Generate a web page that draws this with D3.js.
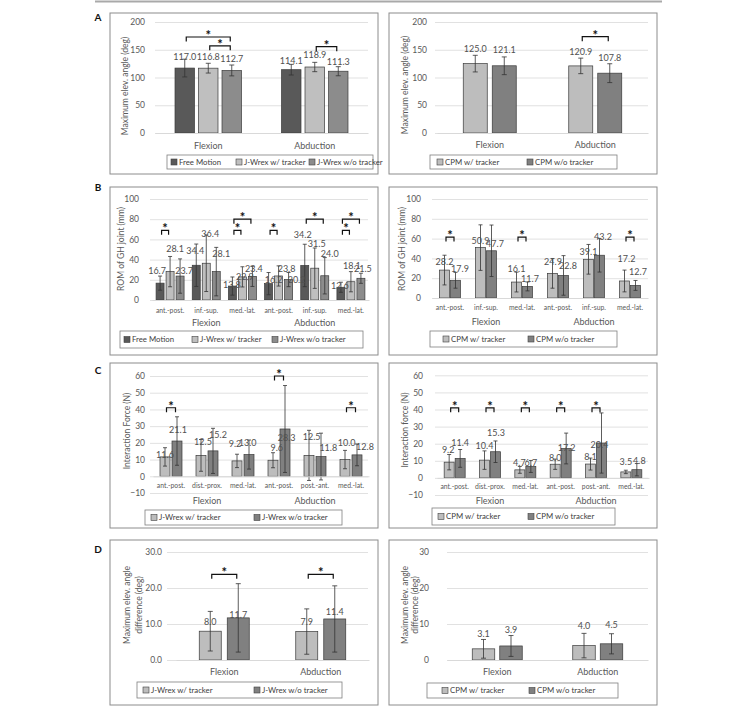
<!DOCTYPE html>
<html>
<head>
<meta charset="utf-8">
<script src="https://cdn.jsdelivr.net/npm/d3@7"></script>
<style>
  body { margin: 0; background: #fff; }
  svg { display: block; }
</style>
</head>
<body>
<div id="chart"></div>
<script>
var FONT = "Lato, 'Open Sans', sans-serif";
var fmt1 = d3.format(".1f");

// ---- categories / series ----
var motions = ["Flexion", "Abduction"];
var romCats = ["ant.-post.", "inf.-sup.", "med.-lat.", "ant.-post.", "inf.-sup.", "med.-lat."];
var forceCats = ["ant.-post.", "dist.-prox.", "med.-lat.", "ant.-post.", "post.-ant.", "med.-lat."];
var jwrex3 = ["Free Motion", "J-Wrex w/ tracker", "J-Wrex w/o tracker"];
var jwrex2 = ["J-Wrex w/ tracker", "J-Wrex w/o tracker"];
var cpm2 = ["CPM w/ tracker", "CPM w/o tracker"];

// ---- values [series][category] ----
var angleJwrexMean = [[117.0, 114.1], [116.8, 118.9], [112.7, 111.3]];
var angleJwrexSD   = [[16, 9.6], [8.8, 8.4], [9.8, 8.2]];
var angleCpmMean   = [[125.0, 120.9], [121.1, 107.8]];
var angleCpmSD     = [[15, 14], [16, 17]];

var romJwrexMean = [[16.7, 34.4, 13.8, 16.2, 34.2, 12.6],
                    [28.1, 36.4, 22.9, 23.8, 31.5, 18.1],
                    [23.7, 28.1, 23.4, 20.2, 24.0, 21.5]];
var romJwrexSD   = [[7, 21, 9, 11, 21, 5],
                    [15, 28, 10, 10, 20, 10],
                    [17, 24, 10, 7, 18, 5]];
var romCpmMean   = [[28.2, 50.9, 16.1, 24.9, 39.1, 17.2],
                    [17.9, 47.7, 11.7, 22.8, 43.2, 12.7]];
var romCpmSD     = [[15, 23, 10, 15, 15, 11],
                    [8, 26, 4.5, 20, 17, 5]];

var forceJwrexMean = [[11.6, 12.5, 9.2, 9.6, 12.5, 10.0],
                      [21.1, 15.2, 13.0, 28.3, 11.8, 12.8]];
var forceJwrexSD   = [[5.5, 9.5, 4, 4.5, 15, 5.5],
                      [14.5, 13.5, 8.7, 26, 14, 6.5]];
var forceCpmMean   = [[9.2, 10.4, 4.7, 8.0, 8.1, 3.5],
                      [11.4, 15.3, 6.7, 17.2, 20.4, 4.8]];
var forceCpmSD     = [[4.5, 5.4, 2, 3, 3.5, 1],
                      [5.2, 6.3, 3.5, 9, 17.6, 3.6]];

var diffJwrexMean = [[8.0, 7.9], [11.7, 11.4]];
var diffJwrexSD   = [[5.5, 6.3], [9.5, 9.2]];
var diffCpmMean   = [[3.1, 4.0], [3.9, 4.5]];
var diffCpmSD     = [[2.6, 3.4], [2.9, 2.8]];

// significance brackets: [category, series a, series b, level]
var sigAngleJwrex = [[0, 0, 2, 173], [0, 1, 2, 157], [1, 1, 2, 155.5]];
var sigAngleCpm   = [[1, 0, 1, 173.5]];
var sigRomJwrex   = [[0, 0, 1, 69], [2, 0, 1, 69], [2, 0, 2, 80], [3, 0, 1, 69], [4, 0, 2, 80], [5, 0, 1, 69], [5, 0, 2, 80]];
var sigRomCpm     = [[0, 0, 1, 61.5], [2, 0, 1, 61.5], [5, 0, 1, 61.5]];
var sigForceJwrex = [[0, 0, 1, 41], [3, 0, 1, 60], [5, 0, 1, 41]];
var sigForceCpm   = [[0, 0, 1, 41], [1, 0, 1, 41], [2, 0, 1, 41], [3, 0, 1, 41], [4, 0, 1, 41]];
var sigDiffJwrex  = [[0, 0, 1, 23.8], [1, 0, 1, 23.8]];

var colors3 = ["#595959", "#bfbfbf", "#8c8c8c"];
var colors2 = ["#bdbdbd", "#808080"];

var svg = d3.select("#chart").append("svg")
    .attr("width", 748).attr("height", 710)
    .style("font-family", FONT);

svg.append("line").attr("x1", 95).attr("x2", 662).attr("y1", 1.5).attr("y2", 1.5)
    .attr("stroke", "#a9a9a9").attr("stroke-width", 2);

// panel letters
[["A", 17.5], ["B", 187], ["C", 370], ["D", 549.5]].forEach(function(d){
    svg.append("text").attr("x", 98).attr("y", d[1]).attr("dy", "0.35em")
        .attr("text-anchor", "middle").attr("font-weight", "bold").attr("font-size", 10)
        .attr("fill", "#111").text(d[0]);
});

var panels = [
  { box: [110, 13, 378, 174], mean: angleJwrexMean, sd: angleJwrexSD, series: jwrex3, colors: colors3,
    yDomain: [0, 200], yRange: [133, 22], ticks: [0, 50, 100, 150, 200], tickFmt: d3.format("d"),
    grid: [155, 368], labelRight: 145, xRange: [155, 368], barW: 19.5, gap: 4, capW: 5,
    title: ["Maximum elev. angle (deg)"], titleX: 125, titleY: 86, titleGap: 0,
    cats: motions, catPad: 10, sig: sigAngleJwrex,
    labelOff: [[[0, -11], [0, -8.7]], [[0, -11], [0, -12]], [[0, -12], [0, -9]]], labelSize: 9,
    legend: { box: [167, 155, 373, 169], xs: [171, 236, 309] } },
  { box: [389, 13, 657, 174], mean: angleCpmMean, sd: angleCpmSD, series: cpm2, colors: colors2,
    yDomain: [0, 200], yRange: [133, 22], ticks: [0, 50, 100, 150, 200], tickFmt: d3.format("d"),
    grid: [435, 648], labelRight: 427, xRange: [437, 648], barW: 24, gap: 5, capW: 5,
    title: ["Maximum elev. angle (deg)"], titleX: 405, titleY: 85, titleGap: 0,
    cats: motions, catPad: 9, sig: sigAngleCpm,
    labelOff: [[[0, -14.3], [0, -14.2]], [[0, -15.8], [0, -15]]], labelSize: 9,
    legend: { box: [430, 155, 617, 169], xs: [437, 527] } },
  { box: [110, 187, 378, 355], mean: romJwrexMean, sd: romJwrexSD, series: jwrex3, colors: colors3,
    yDomain: [0, 100], yRange: [300, 199], ticks: [0, 20, 40, 60, 80, 100], tickFmt: d3.format("d"),
    grid: [150, 368], labelRight: 139, xRange: [152, 369], barW: 8, gap: 2, capW: 4,
    title: ["ROM of GH joint (mm)"], titleX: 121, titleY: 249, titleGap: 0,
    subLabels: romCats, subPad: 7.8, groupY: 322.7, sig: sigRomJwrex,
    labelOff: [[[-3, -12], [-1, -14], [-0.5, -1], [5, -3.6], [-2, -30.5], [-1, -1.3]],
               [[5, -22.6], [4, -29], [2.5, 0], [8, -7], [2, -24], [1, -15.7]],
               [[4, -5], [5, -17.6], [1.5, -7.4], [8, 0.4], [5, -22], [2, -9.3]]], labelSize: 9,
    legend: { box: [120, 331, 363, 348], xs: [124, 192, 272] } },
  { box: [389, 187, 657, 355], mean: romCpmMean, sd: romCpmSD, series: cpm2, colors: colors2,
    yDomain: [0, 100], yRange: [298, 199], ticks: [0, 20, 40, 60, 80, 100], tickFmt: d3.format("d"),
    grid: [432, 648], labelRight: 421, xRange: [432, 648], barW: 10, gap: 1, capW: 4,
    title: ["ROM of GH joint (mm)"], titleX: 402, titleY: 249, titleGap: 0,
    subLabels: romCats, subPad: 7.5, groupY: 322, sig: sigRomCpm,
    labelOff: [[[0, -8], [0, -6.3], [0, -13.4], [0.5, -11.3], [0, -7.3], [2, -21.7]],
               [[4.5, -11.6], [3.5, -7], [2.5, -7.7], [4.5, -10], [3.5, -18], [2.5, -14]]], labelSize: 9,
    legend: { box: [430, 331, 617, 347], xs: [443, 528] } },
  { box: [110, 363, 378, 528], mean: forceJwrexMean, sd: forceJwrexSD, series: jwrex2, colors: colors2,
    yDomain: [-10, 60], yRange: [493, 376], ticks: d3.range(-10, 61, 10), tickFmt: d3.format("d"),
    grid: [150, 368], labelRight: 145, xRange: [153, 369], barW: 10, gap: 2, capW: 4,
    title: ["Interaction Force (N)"], titleX: 127, titleY: 431, titleGap: 0,
    subLabels: forceCats, subPad: 7.2, groupY: 501.3, sig: sigForceJwrex,
    labelOff: [[[0, -2], [2, -14], [-2, -16.7], [3.7, -12], [2.7, -19], [1.7, -16.3]],
               [[1, -11], [5, -16], [-1.3, -11.3], [1.7, 9.2], [7.3, -8.3], [8, -8.4]]], labelSize: 9,
    legend: { box: [145, 510, 342, 525], xs: [151, 254] } },
  { box: [389, 363, 657, 528], mean: forceCpmMean, sd: forceCpmSD, series: cpm2, colors: colors2,
    yDomain: [-10, 60], yRange: [495, 375.3], ticks: d3.range(-10, 61, 10), tickFmt: d3.format("d"),
    grid: [435, 648], labelRight: 423, xRange: [437, 649], barW: 10, gap: 1, capW: 4,
    title: ["Interaction force (N)"], titleX: 405, titleY: 430, titleGap: 0,
    subLabels: forceCats, subPad: 5.8, groupY: 500.7, sig: sigForceCpm,
    labelOff: [[[-1, -12.6], [0, -14], [-0.5, -7], [0, -6.3], [0, -6.8], [0, -10]],
               [[0, -15.5], [0.5, -18.8], [0, -3.5], [0.5, -0.6], [-2, 1.6], [2.5, -8.5]]], labelSize: 9,
    legend: { box: [432, 508, 615, 525], xs: [438, 528] } },
  { box: [110, 540, 378, 705], mean: diffJwrexMean, sd: diffJwrexSD, series: jwrex2, colors: colors2,
    yDomain: [0, 30], yRange: [660, 552], ticks: [0, 10, 20, 30], tickFmt: d3.format(".1f"),
    grid: [167, 368], labelRight: 162, xRange: [176, 369], barW: 22, gap: 6, capW: 5,
    title: ["Maximum elev. angle", "difference (deg)"], titleX: 127, titleY: 605, titleGap: 11.6,
    cats: motions, catPad: 9, sig: sigDiffJwrex,
    labelOff: [[[0, -9], [0, -9.3]], [[0, -3], [0, -7.3]]], labelSize: 9,
    legend: { box: [137, 682, 342, 698], xs: [143, 254] } },
  { box: [389, 540, 657, 705], mean: diffCpmMean, sd: diffCpmSD, series: cpm2, colors: colors2,
    yDomain: [0, 30], yRange: [660, 552], ticks: [0, 10, 20, 30], tickFmt: d3.format("d"),
    grid: [447, 648], labelRight: 429, xRange: [447, 648], barW: 22.5, gap: 5, capW: 5,
    title: ["Maximum elev. angle", "difference (deg)"], titleX: 405, titleY: 605, titleGap: 10,
    cats: motions, catPad: 9, sig: [],
    labelOff: [[[0, -15], [0, -20]], [[0, -16.3], [0, -18.5]]], labelSize: 9,
    legend: { box: [427, 683, 618, 698], xs: [442, 529] } }
];

panels.forEach(drawPanel);

function drawPanel(p) {
    var g = svg.append("g");
    var nSer = p.mean.length, nCat = p.mean[0].length;

    g.append("rect")
        .attr("x", p.box[0]).attr("y", p.box[1])
        .attr("width", p.box[2] - p.box[0]).attr("height", p.box[3] - p.box[1])
        .attr("fill", "none").attr("stroke", "#8c8c8c").attr("stroke-width", 1);

    var y = d3.scaleLinear().domain(p.yDomain).range(p.yRange);
    var x = d3.scaleBand().domain(d3.range(nCat)).range(p.xRange);
    var groupW = nSer * p.barW + (nSer - 1) * p.gap;
    var xs = d3.scaleBand().domain(d3.range(nSer)).range([-groupW / 2, groupW / 2])
        .paddingInner(p.gap / (p.barW + p.gap));
    function cx(c, s) { return x(c) + x.bandwidth() / 2 + xs(s) + xs.bandwidth() / 2; }

    // y axis + gridlines
    var ya = g.append("g")
        .attr("transform", "translate(" + p.grid[0] + ",0)")
        .call(d3.axisLeft(y).tickValues(p.ticks).tickFormat(p.tickFmt)
            .tickSize(-(p.grid[1] - p.grid[0])).tickPadding(p.grid[0] - p.labelRight))
        .attr("font-family", FONT).attr("font-size", 8.5);
    ya.select(".domain").remove();
    ya.selectAll("line").attr("stroke", "#d9d9d9").attr("stroke-width", 0.8);
    ya.selectAll("text").attr("fill", "#595959");

    // axis title
    var t = g.append("text")
        .attr("transform", "translate(" + p.titleX + "," + p.titleY + ") rotate(-90)")
        .attr("text-anchor", "middle").attr("font-size", 8.5).attr("fill", "#595959");
    p.title.forEach(function(line, i){
        t.append("tspan").attr("x", 0).attr("y", i * p.titleGap).attr("dy", "0.35em").text(line);
    });

    var flat = [];
    p.mean.forEach(function(row, s){
        row.forEach(function(v, c){
            flat.push({ s: s, c: c, v: v, sd: p.sd[s][c], off: p.labelOff[s][c] });
        });
    });

    // bars
    g.selectAll(".bar").data(flat).enter().append("rect")
        .attr("x", function(d){ return cx(d.c, d.s) - p.barW / 2; })
        .attr("y", function(d){ return y(Math.max(d.v, 0)); })
        .attr("width", p.barW)
        .attr("height", function(d){ return Math.abs(y(d.v) - y(0)); })
        .attr("fill", function(d){ return p.colors[d.s]; })
        .attr("stroke", "#3a3a3a").attr("stroke-width", 0.7);

    // error bars
    var eb = g.selectAll(".err").data(flat).enter().append("g").attr("stroke", "#333").attr("stroke-width", 0.8);
    eb.append("line")
        .attr("x1", function(d){ return cx(d.c, d.s); }).attr("x2", function(d){ return cx(d.c, d.s); })
        .attr("y1", function(d){ return y(d.v - d.sd); }).attr("y2", function(d){ return y(d.v + d.sd); });
    [-1, 1].forEach(function(k){
        eb.append("line")
            .attr("x1", function(d){ return cx(d.c, d.s) - p.capW / 2; })
            .attr("x2", function(d){ return cx(d.c, d.s) + p.capW / 2; })
            .attr("y1", function(d){ return y(d.v + k * d.sd); })
            .attr("y2", function(d){ return y(d.v + k * d.sd); });
    });

    // value labels
    g.selectAll(".val").data(flat).enter().append("text")
        .attr("x", function(d){ return cx(d.c, d.s) + d.off[0]; })
        .attr("y", function(d){ return y(d.v) + d.off[1]; })
        .attr("dy", "0.35em").attr("text-anchor", "middle")
        .attr("font-size", p.labelSize).attr("fill", "#505050")
        .text(function(d){ return fmt1(d.v); });

    // category axis
    var xa = g.append("g").attr("transform", "translate(0," + y(0) + ")")
        .attr("font-family", FONT);
    if (p.subLabels) {
        xa.call(d3.axisBottom(x).tickSize(0).tickPadding(p.subPad)
            .tickFormat(function(i){ return p.subLabels[i]; }))
          .attr("font-family", FONT).attr("font-size", 6.8);
        var half = nCat / 2;
        motions.forEach(function(m, k){
            var x0 = x(k * half), x1 = x(k * half + half - 1) + x.bandwidth();
            g.append("text").attr("x", (x0 + x1) / 2).attr("y", p.groupY).attr("dy", "0.35em")
                .attr("text-anchor", "middle").attr("font-size", 9).attr("fill", "#595959").text(m);
        });
    } else {
        xa.call(d3.axisBottom(x).tickSize(0).tickPadding(p.catPad)
            .tickFormat(function(i){ return p.cats[i]; }))
          .attr("font-family", FONT).attr("font-size", 9);
    }
    xa.select(".domain").attr("stroke", "#d9d9d9");
    xa.selectAll("text").attr("fill", "#595959");

    // significance brackets
    p.sig.forEach(function(b){
        var xa1 = cx(b[0], b[1]) + 1.5, xb = cx(b[0], b[2]) - 1.5, yb = y(b[3]);
        g.append("path")
            .attr("d", "M" + xa1 + "," + (yb + 4.5) + "V" + yb + "H" + xb + "V" + (yb + 4.5))
            .attr("fill", "none").attr("stroke", "#111").attr("stroke-width", 1.2);
        g.append("text").attr("x", (xa1 + xb) / 2).attr("y", yb + 3)
            .attr("text-anchor", "middle").attr("font-weight", "bold").attr("font-size", 13)
            .attr("fill", "#111").text("*");
    });

    // legend
    var L = p.legend;
    var cy = (L.box[1] + L.box[3]) / 2;
    g.append("rect").attr("x", L.box[0]).attr("y", L.box[1])
        .attr("width", L.box[2] - L.box[0]).attr("height", L.box[3] - L.box[1])
        .attr("fill", "#fff").attr("stroke", "#7f7f7f").attr("stroke-width", 0.8);
    p.series.forEach(function(name, s){
        g.append("rect").attr("x", L.xs[s]).attr("y", cy - 3).attr("width", 6).attr("height", 6)
            .attr("fill", p.colors[s]).attr("stroke", "#404040").attr("stroke-width", 0.6);
        g.append("text").attr("x", L.xs[s] + 8).attr("y", cy).attr("dy", "0.35em")
            .attr("font-size", 7.8).attr("fill", "#404040").text(name);
    });
}
</script>
</body>
</html>
